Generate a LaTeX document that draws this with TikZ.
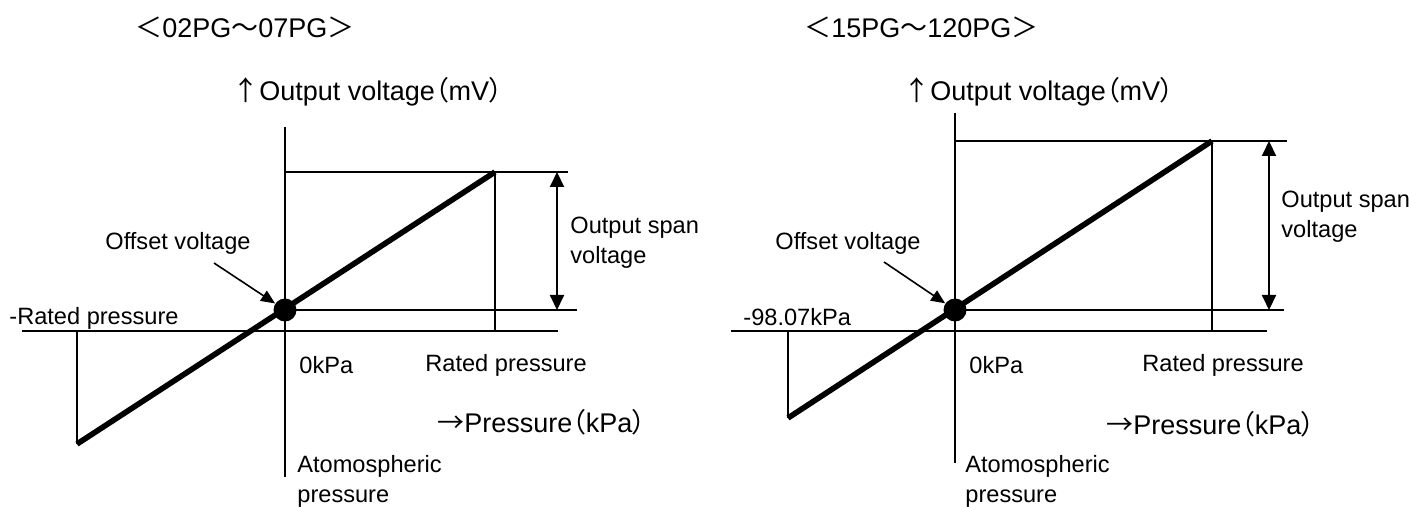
\documentclass[tikz,border=0pt]{standalone}
\usepackage{fontspec}
\setmainfont{Liberation Sans}
\newfontfamily\jpfont{Noto Sans CJK JP}
\newfontfamily\jppfont[RawFeature=+palt]{Noto Sans CJK JP}
\usetikzlibrary{arrows.meta,positioning}
\tikzset{
  smalltxt/.style = {inner sep=0pt, anchor=west, align=left, font=\fontsize{11.8}{15}\selectfont},
  bigtxt/.style   = {inner sep=0pt, anchor=west, font=\fontsize{13.5}{16}\selectfont},
  axisln/.style   = {line width=1pt},
  thickln/.style  = {line width=2.8pt},
  offdot/.style   = {circle, fill, inner sep=0pt, minimum size=11.5pt},
  spanarr/.style  = {line width=1pt, {Triangle[length=7.5pt,width=7pt]}-{Triangle[length=7.5pt,width=7pt]}},
  ptrarr/.style   = {line width=0.8pt, -{Triangle[length=7pt,width=6pt]}}
}
\newcommand{\jp}[1]{{\jpfont #1}}
\newcommand{\jpp}[1]{{\jppfont #1}}

\begin{document}
\begin{tikzpicture}[x=0.5pt,y=-0.5pt]
\useasboundingbox (0,0) rectangle (1409,507);

% left: 02PG - 07PG
\node[bigtxt] (titleL) at (135,27) {\jp{＜}02PG\jp{～}07PG\jp{＞}};
\node[bigtxt] (yL) at (232,92) {\jp{↑}Output voltage\jpp{（}mV\jpp{）}};
\coordinate (yTopL) at (285,127);
\coordinate (yBotL) at (285,477);
\coordinate (xLeftL) at (22,331);
\coordinate (xRightL) at (558,331);
\coordinate (topL) at (285,172);
\coordinate (topEndL) at (568,172);
\coordinate (ratedL) at (495,172);
\coordinate (ratedAxL) at (495,331);
\coordinate (negAxL) at (77,331);
\coordinate (negL) at (77,444);
\coordinate (offEndL) at (577,310);
\coordinate (spanTopL) at (557,172);
\coordinate (spanBotL) at (557,310);
\coordinate (ptrL) at (214,263);
\draw[axisln] (yTopL) -- (yBotL);
\draw[axisln] (xLeftL) -- (xRightL);
\draw[axisln] (topL) -- (topEndL);
\draw[axisln] (ratedL) -- (ratedAxL);
\draw[axisln] (negAxL) -- (negL);
\draw[thickln] (negL) -- (ratedL);
\node[offdot] (dotL) at (285,310) {};
\draw[axisln] (dotL.center) -- (offEndL);
\draw[spanarr] (spanTopL) -- (spanBotL);
\node[smalltxt] (offL) at (105,243) {Offset voltage};
\draw[ptrarr] (ptrL) -- (dotL);
\node[smalltxt] (spanL) at (570,243) {Output span\\voltage};
\node[smalltxt] (negTxtL) at (9,318) {-Rated pressure};
\node[smalltxt] (zeroL) at (299,365) {0kPa};
\node[smalltxt] (ratedTxtL) at (425,365) {Rated pressure};
\node[bigtxt] (xL) at (437,422) {\jp{→}Pressure\jpp{（}kPa\jpp{）}};
\node[smalltxt] (atmL) at (297,481) {Atomospheric\\pressure};

% right: 15PG - 120PG
\node[bigtxt] (titleR) at (804,27) {\jp{＜}15PG\jp{～}120PG\jp{＞}};
\node[bigtxt] (yR) at (903,92) {\jp{↑}Output voltage\jpp{（}mV\jpp{）}};
\coordinate (yTopR) at (955,113);
\coordinate (yBotR) at (955,463);
\coordinate (xLeftR) at (731,331);
\coordinate (xRightR) at (1267,331);
\coordinate (topR) at (955,141);
\coordinate (topEndR) at (1287,141);
\coordinate (ratedR) at (1212,141);
\coordinate (ratedAxR) at (1212,331);
\coordinate (negAxR) at (788,331);
\coordinate (negR) at (788,418);
\coordinate (offEndR) at (1284,310);
\coordinate (spanTopR) at (1269,141);
\coordinate (spanBotR) at (1269,310);
\coordinate (ptrR) at (884,262);
\draw[axisln] (yTopR) -- (yBotR);
\draw[axisln] (xLeftR) -- (xRightR);
\draw[axisln] (topR) -- (topEndR);
\draw[axisln] (ratedR) -- (ratedAxR);
\draw[axisln] (negAxR) -- (negR);
\draw[thickln] (negR) -- (ratedR);
\node[offdot] (dotR) at (955,310) {};
\draw[axisln] (dotR.center) -- (offEndR);
\draw[spanarr] (spanTopR) -- (spanBotR);
\node[smalltxt] (offR) at (775,243) {Offset voltage};
\draw[ptrarr] (ptrR) -- (dotR);
\node[smalltxt] (spanR) at (1281,217) {Output span\\voltage};
\node[smalltxt] (negTxtR) at (743,317) {-98.07kPa};
\node[smalltxt] (zeroR) at (969,365) {0kPa};
\node[smalltxt] (ratedTxtR) at (1142,365) {Rated pressure};
\node[bigtxt] (xR) at (1106,424) {\jp{→}Pressure\jpp{（}kPa\jpp{）}};
\node[smalltxt] (atmR) at (965,481) {Atomospheric\\pressure};
\end{tikzpicture}
\end{document}
